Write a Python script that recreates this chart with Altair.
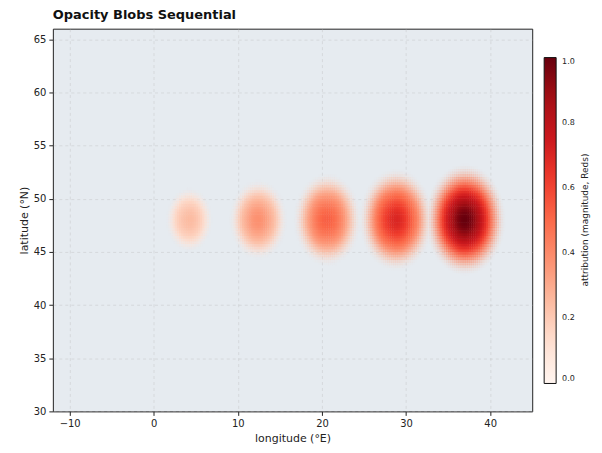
import altair as alt
import numpy as np
import pandas as pd

# ---- data ----
title_text = "Opacity Blobs Sequential"
x_title = "longitude (°E)"
y_title = "latitude (°N)"
cbar_title = "attribution (magnitude, Reds)"

blob_lon = [4.2, 12.4, 20.6, 28.8, 37.0]
blob_lat = [48.0, 48.0, 48.0, 48.0, 48.0]
blob_amp = [0.25, 0.38, 0.53, 0.7, 1.0]
blob_edge = [2.8, 3.5, 4.1, 4.5, 4.9]     # visible radius in degrees
blob_sigma = [1.7, 2.0, 2.3, 2.5, 2.7]    # width of the magnitude profile

x_ticks = [-10, 0, 10, 20, 30, 40]
y_ticks = [30, 35, 40, 45, 50, 55, 60, 65]
cbar_ticks = [0.0, 0.2, 0.4, 0.6, 0.8, 1.0]
reds = ["#fff5f0", "#fee0d2", "#fcbba1", "#fc9272", "#fb6a4a",
        "#ef3b2c", "#cb181d", "#a50f15", "#67000d"]

x_domain = [-12, 45]
y_domain = [30, 66]

# ---- build the gridded field from the blob parameters ----
step = 0.25
overlap = 0.05
lons = np.arange(-1.5, 44.0, step)
lats = np.arange(41.0, 55.5, step)
rows = []
for lo in lons:
    for la in lats:
        cx, cy = lo + step / 2, la + step / 2
        val = 0.0
        alpha = 0.0
        for bx, by, amp, re, sg in zip(blob_lon, blob_lat, blob_amp, blob_edge, blob_sigma):
            r = np.hypot(cx - bx, (cy - by) * 0.92)
            g = np.exp(-r * r / (2 * sg * sg))
            t = np.clip((re - r) / (0.5 * re), 0.0, 1.0)
            a = t * t * (3 - 2 * t)
            if a > alpha:
                alpha = a
                val = amp * g
        if alpha > 0.01:
            rows.append({"x0": lo, "x1": lo + step + overlap, "y0": la, "y1": la + step + overlap,
                         "v": float(min(val, 1.0)), "a": float(alpha)})
field = pd.DataFrame(rows)

font = "DejaVu Sans"

heat = alt.Chart(field).mark_rect(strokeWidth=0).encode(
    x=alt.X("x0:Q", scale=alt.Scale(domain=x_domain, nice=False, zero=False),
            axis=alt.Axis(values=x_ticks, title=x_title, format="d")),
    x2="x1:Q",
    y=alt.Y("y0:Q", scale=alt.Scale(domain=y_domain, nice=False, zero=False),
            axis=alt.Axis(values=y_ticks, title=y_title, format="d")),
    y2="y1:Q",
    color=alt.Color("v:Q", scale=alt.Scale(range=reds, domain=[0, 1], interpolate="rgb"),
                    legend=alt.Legend(orient="none", legendX=493, legendY=29,
                                      direction="vertical", gradientLength=327,
                                      gradientThickness=12, title=None,
                                      values=cbar_ticks, format=".1f",
                                      labelFontSize=8, labelFont=font,
                                      labelColor="#222", labelOverlap=False,
                                      gradientStrokeColor="#111",
                                      gradientStrokeWidth=1, labelOffset=6,
                                      gradientOpacity=1)),
    opacity=alt.Opacity("a:Q", scale=None, legend=None),
)

cbar_label = alt.Chart(pd.DataFrame({"t": [cbar_title]})).mark_text(
    angle=270, fontSize=9, font=font, color="#222", baseline="middle", align="center"
).encode(x=alt.value(534), y=alt.value(192), text="t:N")

chart = alt.layer(heat, cbar_label).properties(
    width=481, height=384,
    title=alt.TitleParams(title_text, anchor="start", frame="group", fontSize=13,
                          fontWeight="bold", font=font, offset=7, color="#111"),
    padding={"left": 45, "top": 20, "right": 62, "bottom": 40},
    autosize=alt.AutoSizeParams(type="none"),
).configure_view(
    fill="#e6ebf0", stroke="#222", strokeWidth=1
).configure_axis(
    grid=True, gridDash=[3, 3], gridColor="#b8b8b8", gridOpacity=0.45, gridWidth=0.8,
    domain=False, tickColor="#222", tickSize=4, tickWidth=1,
    labelFont=font, labelFontSize=10, labelColor="#222", labelPadding=3,
    titleFont=font, titleFontSize=11, titleFontWeight="normal", titleColor="#222",
    titlePadding=4, zindex=1,
)

chart.save("out.html", embed_options={"renderer": "svg", "actions": False})
